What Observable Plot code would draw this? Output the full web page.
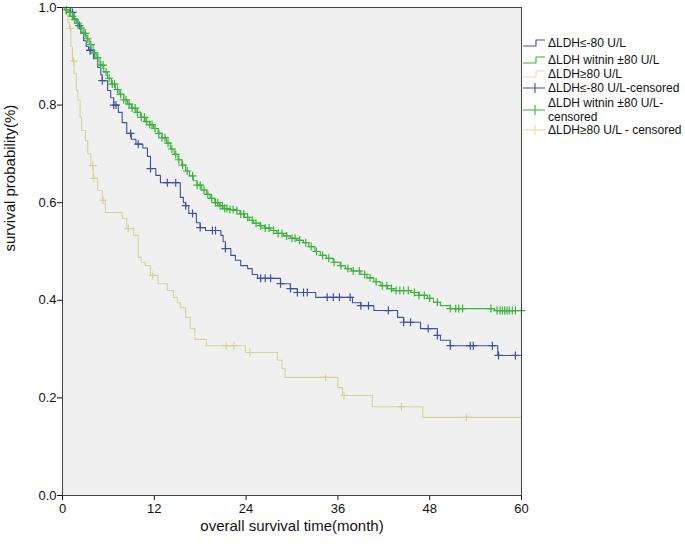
<!DOCTYPE html>
<html><head><meta charset="utf-8">
<script src="https://cdn.jsdelivr.net/npm/d3@7"></script>
<script src="https://cdn.jsdelivr.net/npm/@observablehq/plot@0.6"></script>
<style>
body{margin:0;background:#fff;font-family:"Liberation Sans",Arial,sans-serif;}
#wrap{position:relative;width:685px;height:544px;}
.lg{position:absolute;left:522px;font-size:12px;color:#111;display:flex;align-items:center;line-height:12px;white-space:nowrap;}
.lg svg{flex:none;margin-right:2px}
.lg .two{display:flex;flex-direction:column;gap:2px;line-height:12px}
</style></head><body><div id="wrap"></div>
<script>
const groups = ["ΔLDH≤-80 U/L", "ΔLDH witnin ±80 U/L", "ΔLDH≥80 U/L"];
const colors = ["#3d50a8", "#3cb43c", "#d6d39a"];
const xTicks = [0, 12, 24, 36, 48, 60];
const yTicks = [0, 0.2, 0.4, 0.6, 0.8, 1.0];

// ΔLDH ≤ -80 : step times / survival after step / censored times
const blueT = [1.05,1.5,1.96,2.4,2.75,3.1,3.4,4.05,4.6,5.0,5.2,5.9,6.3,6.7,7.3,7.8,8.4,9.0,9.6,10.5,11.1,11.5,12.2,12.8,15.4,15.8,16.1,16.5,17.5,18.0,18.7,20.7,21.0,21.3,22.0,22.6,23.3,24.2,24.8,25.5,28.5,29.8,30.7,33.1,37.9,39.0,40.7,43.8,44.6,46.8,49.0,49.4,50.7,56.9];
const blueS = [0.99,0.977,0.963,0.948,0.932,0.92,0.912,0.895,0.877,0.862,0.85,0.83,0.815,0.8,0.785,0.764,0.742,0.73,0.72,0.712,0.695,0.67,0.656,0.641,0.611,0.6,0.594,0.578,0.559,0.549,0.543,0.533,0.52,0.506,0.492,0.482,0.471,0.465,0.453,0.445,0.434,0.424,0.416,0.406,0.395,0.389,0.379,0.365,0.355,0.342,0.328,0.318,0.307,0.287];
const blueC = [1.3,2.2,3.6,3.7,5.2,6.7,7.0,8.9,9.9,11.5,13.7,14.8,16.1,17.0,18.0,19.6,20.0,21.3,25.9,26.5,27.2,28.5,29.8,30.7,31.5,32.0,34.6,35.4,36.2,37.6,39.0,40.0,42.6,44.6,45.5,47.8,49.0,50.7,53.3,53.7,56.2,57.0,59.2];

// ΔLDH within ±80
const greenT = [0.3,0.7,1.0,1.4,1.8,2.2,2.7,3.1,3.5,4.0,4.4,4.9,5.4,5.9,6.4,6.9,7.4,8.0,8.5,9.0,9.6,10.2,10.8,11.4,11.9,12.5,13.0,13.6,14.1,14.6,15.1,15.6,16.1,16.6,17.1,17.6,18.2,18.8,19.3,19.9,20.5,21.0,21.8,22.5,23.2,23.8,24.4,25.0,25.7,26.4,27.2,28.0,28.9,29.8,30.6,31.5,32.2,33.0,33.7,34.5,35.4,36.3,37.0,37.8,39.0,39.8,40.7,41.6,42.5,43.3,45.5,46.6,47.7,48.5,49.4,50.7,56.5];
const greenS = [0.995,0.99,0.982,0.975,0.968,0.958,0.947,0.936,0.924,0.907,0.897,0.882,0.868,0.855,0.843,0.832,0.822,0.811,0.802,0.794,0.785,0.775,0.766,0.76,0.752,0.742,0.733,0.722,0.71,0.699,0.688,0.677,0.665,0.655,0.645,0.636,0.626,0.617,0.609,0.6,0.594,0.588,0.586,0.584,0.577,0.57,0.564,0.558,0.553,0.548,0.543,0.537,0.532,0.527,0.523,0.518,0.51,0.5,0.492,0.486,0.478,0.471,0.465,0.46,0.453,0.446,0.438,0.43,0.424,0.42,0.416,0.41,0.404,0.396,0.389,0.383,0.379];
const greenC = [0.5,0.9,1.3,1.6,2.0,2.4,2.8,3.0,3.3,3.7,4.2,4.6,5.0,5.3,5.7,6.1,6.5,6.8,7.2,7.6,8.0,8.3,8.7,9.1,9.5,9.8,10.3,10.7,11.0,11.4,11.7,12.1,12.6,13.0,13.4,13.8,14.3,14.8,15.2,15.7,16.3,17.0,17.6,18.0,18.5,19.0,19.5,20.0,20.3,20.6,20.9,21.2,21.5,21.9,22.3,22.8,23.3,23.7,24.2,24.8,25.3,25.9,26.5,27.0,27.6,28.2,28.7,29.3,30.0,30.4,31.0,31.8,32.5,33.2,34.0,34.8,35.5,36.4,37.3,38.0,38.8,39.5,40.2,41.0,41.8,42.4,43.0,43.6,44.1,44.6,45.2,46.0,46.6,47.3,48.0,49.0,50.7,51.4,51.8,52.3,56.0,56.8,57.2,57.5,57.8,58.1,58.4,58.8,59.2,60];

// ΔLDH ≥ 80
const beigeT = [0.4,0.7,0.9,1.1,1.3,1.5,1.8,2.0,2.3,2.5,3.0,3.3,3.7,4.0,4.6,5.2,5.6,7.8,8.4,9.3,9.9,10.3,10.8,11.5,12.5,13.7,14.5,15.0,15.4,16.1,16.7,17.3,18.8,23.9,28.1,28.7,29.1,36.0,36.6,40.5,47.1];
const beigeS = [0.985,0.97,0.957,0.92,0.89,0.865,0.83,0.81,0.775,0.748,0.727,0.7,0.676,0.65,0.625,0.605,0.58,0.568,0.547,0.533,0.488,0.478,0.471,0.451,0.434,0.42,0.406,0.395,0.385,0.365,0.342,0.32,0.307,0.293,0.277,0.26,0.242,0.221,0.205,0.182,0.16];
const beigeC = [1.05,1.45,3.95,4.1,5.3,8.6,11.8,21.4,22.4,24.5,34.4,36.8,44.3,52.8];

function curve(T, S) {
  return [{t: 0, s: 1}, ...T.map((t, i) => ({t, s: S[i]})), {t: 60, s: S[S.length - 1]}];
}
function cens(T, S, C) {
  return C.map(c => {
    const i = d3.bisectRight(T, c) - 1;
    return {t: c, s: i < 0 ? 1 : S[i]};
  });
}
const plusSym = {draw(ctx, size) { const r = Math.sqrt(size / Math.PI); ctx.moveTo(-r, 0); ctx.lineTo(r, 0); ctx.moveTo(0, -r); ctx.lineTo(0, r); }};

const series = [
  {T: beigeT, S: beigeS, C: beigeC, color: colors[2]},
  {T: blueT, S: blueS, C: blueC, color: colors[0]},
  {T: greenT, S: greenS, C: greenC, color: colors[1]}
];

const marks = [Plot.frame({fill: "#f0f0f0"})];
for (const g of series) {
  marks.push(Plot.line(curve(g.T, g.S), {x: "t", y: "s", curve: "step-after", stroke: g.color, strokeWidth: 1.1}));
}
for (const g of series) {
  marks.push(Plot.dot(cens(g.T, g.S, g.C), {x: "t", y: "s", symbol: plusSym, r: 4, stroke: g.color, fill: "none", strokeWidth: 1.2}));
}
marks.push(
  Plot.axisX({ticks: xTicks, tickSize: 5, tickPadding: 3, label: null, fontSize: 13}),
  Plot.axisY({ticks: yTicks, tickFormat: d3.format(".1f"), tickSize: 5, tickPadding: 1, label: null, fontSize: 13}),
  Plot.text(["overall survival time(month)"], {frameAnchor: "bottom", dy: 35, fontSize: 15, fill: "#111"}),
  Plot.text(["survival probability(%)"], {frameAnchor: "left", dx: -52, rotate: -90, fontSize: 15, fill: "#111"}),
  Plot.frame({stroke: "#444"})
);

const chart = Plot.plot({
  width: 685, height: 544,
  marginLeft: 62, marginRight: 164, marginTop: 7, marginBottom: 49,
  x: {domain: [0, 60]},
  y: {domain: [0, 1]},
  style: {fontFamily: "'Liberation Sans', Arial, sans-serif", color: "#111", background: "transparent"},
  marks
});
const wrap = document.getElementById("wrap");
wrap.appendChild(chart);

// Legend
const stepSvg = c => `<svg width="24" height="12"><path d="M1,9H14V3H23" fill="none" stroke="${c}" stroke-width="1.1"/></svg>`;
const crossSvg = c => `<svg width="24" height="12"><path d="M1,6H23M13,1V11" fill="none" stroke="${c}" stroke-width="1.1"/></svg>`;
const legendItems = [
  {top: 37, sym: stepSvg(colors[0]), text: `<span>${groups[0]}</span>`},
  {top: 54, sym: stepSvg(colors[1]), text: `<span>${groups[1]}</span>`},
  {top: 68, sym: stepSvg("#efd3bb"), text: `<span>${groups[2]}</span>`},
  {top: 82, sym: crossSvg(colors[0]), text: `<span>${groups[0]}-censored</span>`},
  {top: 97, sym: crossSvg(colors[1]), text: `<div class="two"><span>${groups[1]}-</span><span>censored</span></div>`},
  {top: 124, sym: crossSvg("#e2dd9c"), text: `<span>${groups[2]} - censored</span>`}
];
for (const it of legendItems) {
  const d = document.createElement("div");
  d.className = "lg";
  d.style.top = it.top + "px";
  d.innerHTML = it.sym + it.text;
  wrap.appendChild(d);
}
</script>
</body></html>
